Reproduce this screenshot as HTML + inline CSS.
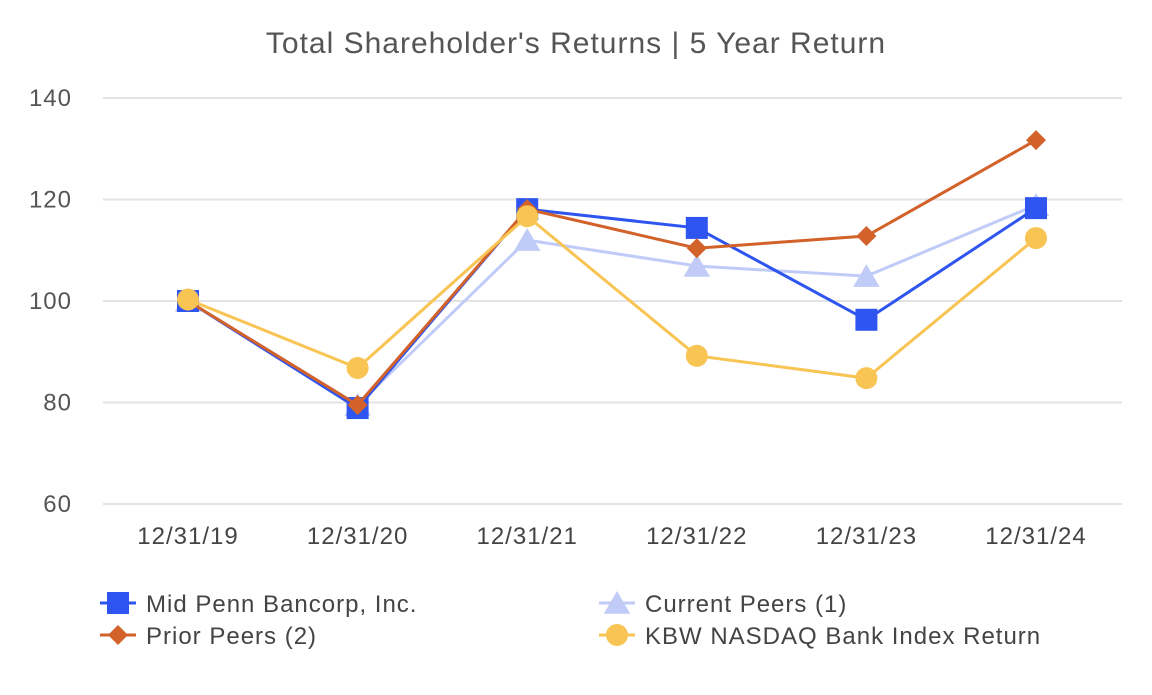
<!DOCTYPE html>
<html><head><meta charset="utf-8"><style>
body{margin:0;background:#fff;}
svg text{font-family:"Liberation Sans",Arial,sans-serif;letter-spacing:1px;}
</style></head><body>
<svg id="chart" width="1152" height="690" xmlns="http://www.w3.org/2000/svg">
<text x="576" y="53" text-anchor="middle" font-size="30" fill="#555">Total Shareholder's Returns | 5 Year Return</text>
<g id="grid"></g><g id="series"></g><g id="legend"></g>
</svg>
<script>
const categories=["12/31/19","12/31/20","12/31/21","12/31/22","12/31/23","12/31/24"];
const yTicks=[60,80,100,120,140];
const midPenn=[100,78.9,118.1,114.4,96.3,118.3];
const currentPeers=[100,79.5,112,106.9,104.9,118.9];
const priorPeers=[100,79.5,118.1,110.4,112.8,131.7];
const kbw=[100.3,86.8,116.7,89.2,84.8,112.4];
const seriesNames=["Mid Penn Bancorp, Inc.","Current Peers (1)","Prior Peers (2)","KBW NASDAQ Bank Index Return"];
const NS="http://www.w3.org/2000/svg";
const y=v=>504-(v-60)*5.075;
const x=i=>188+i*169.6;
function mk(t,a,p){const e=document.createElementNS(NS,t);for(const k in a)e.setAttribute(k,a[k]);p.appendChild(e);return e;}
const grid=document.getElementById('grid');
yTicks.forEach(t=>{
 const l=mk('line',{x1:103,x2:1122,y1:y(t),y2:y(t),stroke:'#e3e3e3','stroke-width':2},grid);
 
 
 const tx=mk('text',{x:72,y:y(t)+8,'text-anchor':'end','font-size':24,fill:'#555'},grid);tx.textContent=t;
 
 
});
categories.forEach((c,i)=>{
 const tx=mk('text',{x:x(i),y:544,'text-anchor':'middle','font-size':24,fill:'#444'},grid);tx.textContent=c;
 
 
});
function marker(type,cx,cy,col,g,s){
 if(type==='sq')return mk('rect',{x:cx-s,y:cy-s,width:2*s,height:2*s,fill:col},g);
 if(type==='di')return mk('polygon',{points:`${cx},${cy-s} ${cx+s},${cy} ${cx},${cy+s} ${cx-s},${cy}`,fill:col},g);
 if(type==='tr')return mk('polygon',{points:`${cx},${cy-s} ${cx+s*1.1},${cy+s*0.9} ${cx-s*1.1},${cy+s*0.9}`,fill:col},g);
 return mk('circle',{cx:cx,cy:cy,r:s,fill:col},g);
}
const defs=[
 {d:currentPeers,c:'#c0cbf7',m:'tr',s:12,n:'current-peers'},
 {d:midPenn,c:'#2f55f0',m:'sq',s:11,n:'mid-penn'},
 {d:priorPeers,c:'#d2622a',m:'di',s:10,n:'prior-peers'},
 {d:kbw,c:'#f8c453',m:'ci',s:11,n:'kbw'}];
const sg=document.getElementById('series');
defs.forEach(s=>{
 const g=mk('g',{},sg);
 
 
 const p=mk('polyline',{points:s.d.map((v,i)=>x(i)+','+y(v)).join(' '),fill:'none',stroke:s.c,'stroke-width':3},g);
 
 
 s.d.forEach((v,i)=>{const m=marker(s.m,x(i),y(v),s.c,g,s.s);
  
  });
});
const lg=document.getElementById('legend');
const leg=[[0,'#2f55f0','sq',11,118,603],[1,'#c0cbf7','tr',12,617,603],[2,'#d2622a','di',10,118,635],[3,'#f8c453','ci',11,617,635]];
leg.forEach(L=>{
 const g=mk('g',{},lg);
 
 
 mk('line',{x1:L[4]-18,x2:L[4]+18,y1:L[5],y2:L[5],stroke:L[1],'stroke-width':3},g);
 marker(L[2],L[4],L[5],L[1],g,L[3]);
 const t=mk('text',{x:L[4]+28,y:L[5]+9,'font-size':24,fill:'#444'},g);t.textContent=seriesNames[L[0]];
});
</script>
</body></html>
